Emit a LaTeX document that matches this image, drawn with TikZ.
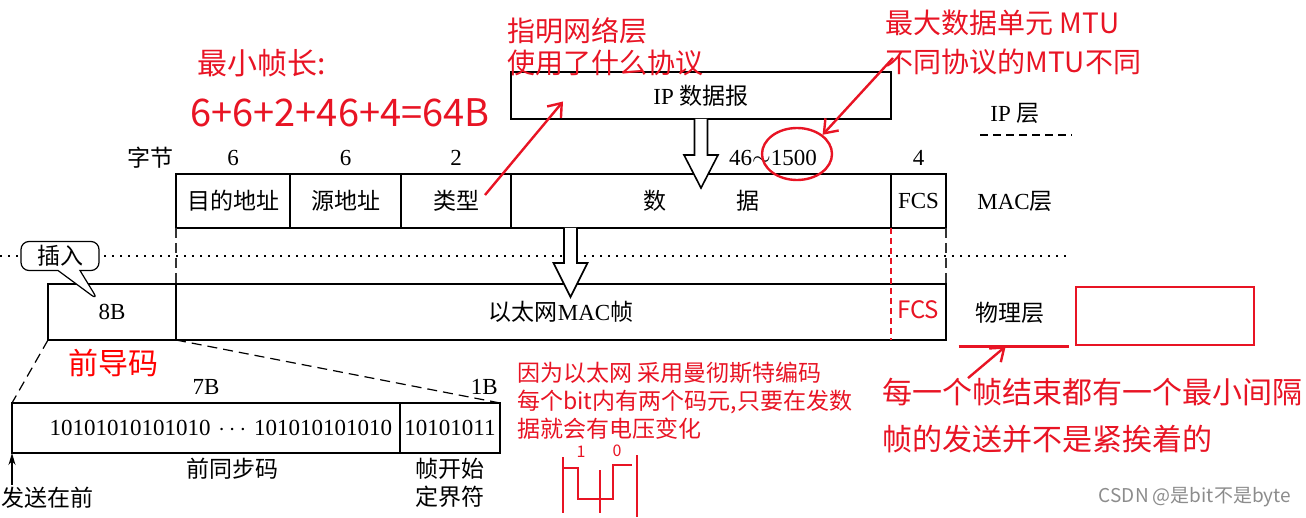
\documentclass[tikz,border=0pt]{standalone}
\usepackage{fontspec}
\setmainfont{Liberation Serif}
\newfontfamily\cjk{Noto Sans CJK SC}
\usetikzlibrary{shapes,shapes.geometric,shapes.callouts,arrows.meta,positioning}
\definecolor{pen}{RGB}{232,20,36}
\newcommand{\boxfont}{\fontsize{11.5}{14}\selectfont}
\tikzstyle{field} = [draw,line width=0.6pt,rectangle,inner sep=0,outer sep=0,minimum height=27pt,font=\boxfont]
\tikzstyle{outerbox} = [draw,line width=1.2pt]
\tikzstyle{count} = [inner sep=1pt,font=\boxfont]
\tikzstyle{tag} = [inner sep=1pt,font=\boxfont\cjk]
\tikzstyle{hollow} = [draw,line width=0.8pt,fill=white]
\tikzstyle{cut} = [dash pattern=on 5pt off 3pt,line width=0.6pt]
\tikzstyle{guide} = [dash pattern=on 5pt off 2.5pt,line width=0.7pt,black!80]
\tikzstyle{penguide} = [dash pattern=on 3pt off 2pt,line width=1pt,pen]
\tikzstyle{sepline} = [dash pattern=on 0.8pt off 3.2pt,line width=0.8pt]
\tikzstyle{layerline} = [dash pattern=on 4pt off 2.5pt,line width=0.7pt]
\tikzstyle{bubble} = [draw,rectangle callout,rounded corners=4pt,fill=white,line width=0.6pt,inner sep=0,minimum width=39pt,minimum height=14.5pt,callout pointer width=11pt,font=\boxfont\cjk]
\tikzstyle{hand} = [text=pen,inner sep=0,align=left]
\tikzstyle{penline} = [pen,line width=1.2pt]
\tikzstyle{penarrow} = [pen,line width=1.2pt,-{Straight Barb[length=6pt,width=9pt]}]
\def \px {0.5pt}

\begin{document}
\begin{tikzpicture}[x=\px,y=-\px]
  \useasboundingbox (0,0) rectangle (1306,518);
  \coordinate (dl) at (0,256);
  \coordinate (dr) at (1070,256);
  \draw[sepline] (dl) -- (dr);

  \node[field,line width=1.2pt,minimum width=190pt,minimum height=23.5pt] (ipd) at (701,95.5) {IP {\cjk 数据报}};

  \node[field,minimum width=57pt] (dst) at (233,201) {\cjk 目的地址};
  \node[field,minimum width=55.5pt,right=0pt of dst] (src) {\cjk 源地址};
  \node[field,minimum width=55pt,right=0pt of src] (typ) {\cjk 类型};
  \node[field,minimum width=190pt,right=0pt of typ] (dat) {{\cjk 数}\hspace{35pt}{\cjk 据}};
  \node[field,minimum width=27.5pt,right=0pt of dat] (fcs) {FCS};
  \draw[outerbox] (dst.north west) rectangle (fcs.south east);

  \node[count,above=3pt of dst] (b1) {6};
  \node[count,above=3pt of src] (b2) {6};
  \node[count,above=3pt of typ] (b3) {2};
  \node[count,above=3pt of dat,xshift=36pt] (b4) {46$\sim$1500};
  \node[count,above=3pt of fcs] (b5) {4};
  \node[tag,anchor=east] (bytes) at (dst.west |- b1) {字节};

  \node[font=\boxfont] (iplay) at (1015,113) {IP {\cjk 层}};
  \node[font=\boxfont] (maclay) at (1015,201) {MAC{\cjk 层}};
  \node[tag] (phylay) at (1010,313) {物理层};
  \draw[layerline] ([shift={(-35,22)}]iplay.center) -- ([shift={(57,22)}]iplay.center);

  \node[field,minimum width=64pt,minimum height=28pt] (pre) at (112,312) {8B};
  \node[field,minimum width=385pt,minimum height=28pt,right=0pt of pre] (mac) {{\cjk 以太网}MAC{\cjk 帧}};
  \draw[outerbox] (pre.north west) rectangle (mac.south east);

  \draw[guide] (dst.south west) -- (mac.north west);
  \draw[guide] (fcs.south east) -- (mac.north east);
  \draw[penguide] (fcs.south west) -- (fcs.south west |- mac.south);
  \node[hand,font={\fontsize{12}{14}\cjk}] (fcsmark) at (918,310) {FCS};

  \draw[hollow] ([xshift=-3.25pt]ipd.south) -- ++(0,36) -- ++(-10.5,0) -- ++(17,33) -- ++(17,-33) -- ++(-10.5,0) -- ++(0,-36);
  \draw[hollow] ([xshift=-68.5pt]dat.south) -- ++(0,35) -- ++(-10.5,0) -- ++(17,34) -- ++(17,-34) -- ++(-10.5,0) -- ++(0,-35);

  \coordinate (instip) at (98,300);
  \node[bubble,callout absolute pointer=(instip)] (ins) at (60,256) {插入};

  \node[field,minimum width=194pt,minimum height=25pt,text width=186pt,align=right] (sync) at (206,428) {10101010101010\ $\cdots$\ 101010101010};
  \node[field,minimum width=50pt,minimum height=25pt,right=0pt of sync] (sfd) {10101011};
  \draw[outerbox] (sync.north west) rectangle (sfd.south east);
  \draw[cut] (pre.south west) -- (sync.north west);
  \draw[cut] (pre.south east) -- (sfd.north east);
  \node[count,above=3pt of sync] (b7) {7B};
  \node[count,anchor=east] (b8) at (sfd.east |- b7) {1B};
  \node[tag,below=1.5pt of sync,xshift=13pt] (syncl) {前同步码};
  \node[tag,align=center,below=1.5pt of sfd] (sfdl) {帧开始\\定界符};
  \node[tag] (send) at (48,498) {发送在前};
  \draw[line width=0.6pt,-{Stealth[length=6pt,width=3.5pt]}] (sync.south west |- send.north) -- (sync.south west);

  \node[text=red,font={\fontsize{15}{18}\cjk}] (prelbl) at (113,363) {前导码};

  \node[hand,font={\fontsize{15}{18}\cjk}] (minlen) at (262,63) {最小帧长:};
  \node[hand,font={\fontsize{19}{22}\cjk}] (minsum) at (340,113) {6+6+2+46+4=64B};
  \node[hand,anchor=west,font={\fontsize{14}{16}\cjk}] (proto) at (507,46.5) {指明网络层\\使用了什么协议};
  \draw[penarrow] ([shift={(29,-6)}]typ.center) -- ([shift={(-138,6)}]ipd.center);

  \node[hand,anchor=west,font={\fontsize{14}{19.5}\cjk}] (mtu) at (885,42) {最大数据单元 MTU\\不同协议的MTU不同};
  \node[draw=pen,line width=1.2pt,ellipse,minimum width=35pt,minimum height=26pt] (mtuc) at (797,154) {};
  \draw[penarrow] ([shift={(8,16)}]mtu.west) -- (mtuc.north east);

  \node[hand,anchor=west,font={\fontsize{11.5}{14}\cjk}] (manch) at (517,401) {因为以太网 采用曼彻斯特编码\\每个bit内有两个码元,只要在发数\\据就会有电压变化};
  \draw[pen,line width=1pt] (563,457) -- (563,513);
  \draw[pen,line width=1pt] (563,468) -- (578,468) -- (578,499) -- (613,499) -- (613,465) -- (632,465);
  \draw[pen,line width=1pt] (600,470) -- (600,513);
  \draw[pen,line width=1pt] (637,455) -- (637,517);
  \node[hand,font={\fontsize{8}{9}\cjk}] (one) at (581,452) {1};
  \node[hand,font={\fontsize{8}{9}\cjk}] (zero) at (617,451) {0};

  \node[draw=pen,line width=1.3pt,inner sep=0,minimum width=89pt,minimum height=29pt] (gap) at (1165,316) {};
  \draw[penline] ([xshift=-58pt]gap.south west) -- ([xshift=-3pt]gap.south west);
  \node[hand,anchor=west,font={\fontsize{15}{23.5}\cjk}] (gapnote) at (882,416) {每一个帧结束都有一个最小间隔\\帧的发送并不是紧挨着的};
  \draw[penarrow] ([xshift=43pt]gapnote.north west) -- ([xshift=-34.5pt]gap.south west);

  \node[text=black!45,font={\fontsize{9.5}{11}\cjk}] (wm) at (1195,497) {CSDN @是bit不是byte};
\end{tikzpicture}
\end{document}
